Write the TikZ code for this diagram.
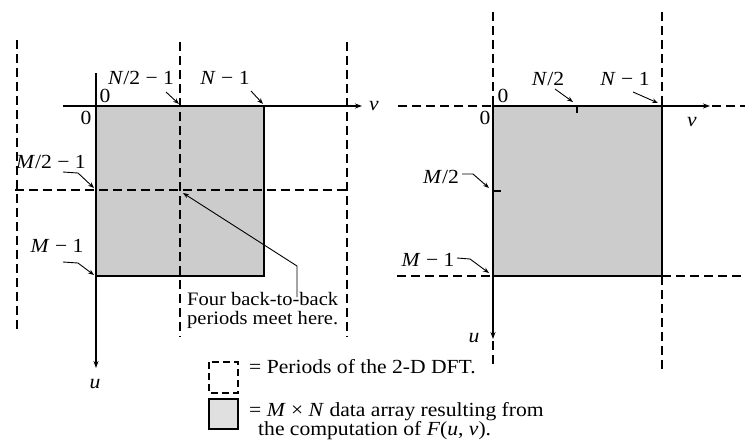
\documentclass[tikz,border=0pt]{standalone}
\usepackage{fontspec}
\setmainfont{Liberation Serif}[FakeStretch=1.08]
\usetikzlibrary{arrows.meta}
\newcommand\mvar[1]{\textit{#1}}
\begin{document}
\begin{tikzpicture}[x=1pt,y=-1pt,
  every node/.style={font=\fontsize{20}{18}\selectfont, inner sep=0pt},
  calltext/.style={font=\fontsize{19}{18}\selectfont, anchor=base west},
  axisarrow/.style={line width=1.1pt,-{Stealth[length=7pt,width=5pt]}},
  per/.style={line width=1.1pt,dash pattern=on 9pt off 5pt},
  pointer/.style={line width=0.9pt,-{Stealth[length=6pt,width=4.5pt]}},
  dataarr/.style={fill=black!20,draw=black,line width=1.1pt}]
\useasboundingbox (0,0) rectangle (745,445);
\fill[white] (0,0) rectangle (745,445);

% ================= LEFT =================
\draw[dataarr] (96,106) rectangle (264,276);
\coordinate (Lvs) at (63,106); \coordinate (Lve) at (362,106);
\coordinate (Lus) at (96,73);  \coordinate (Lue) at (96,368);
\draw[axisarrow] (Lvs) -- (Lve);
\draw[axisarrow] (Lus) -- (Lue);
\node (Lv) at (374,106) {\mvar{v}};
\node (Lu) at (95,384) {\mvar{u}};
% periods
\coordinate (Ld1a) at (17,40);  \coordinate (Ld1b) at (17,333);
\coordinate (Ld2a) at (180,42); \coordinate (Ld2b) at (180,337);
\coordinate (Ld3a) at (347,42); \coordinate (Ld3b) at (347,337);
\coordinate (Lh1a) at (15,190); \coordinate (Lh1b) at (347,190);
\draw[per] (Ld1a) -- (Ld1b);
\draw[per] (Ld2a) -- (Ld2b);
\draw[per] (Ld3a) -- (Ld3b);
\draw[per] (Lh1a) -- (Lh1b);
% labels
\node (L0t) at (105,96) {0};
\node (L0l) at (86,118) {0};
\node (LN2) at (141,78) {\mvar{N}/2 − 1};
\coordinate (LN2a) at (166,92); \coordinate (LN2b) at (179,104);
\draw[pointer] (LN2a) -- (LN2b);
\node (LN1) at (225,78) {\mvar{N} − 1};
\coordinate (LN1a) at (251,91); \coordinate (LN1b) at (263,104);
\draw[pointer] (LN1a) -- (LN1b);
\node (LM2) at (51,162) {\mvar{M}/2 − 1};
\coordinate (LM2a) at (63,172); \coordinate (LM2m) at (78,173); \coordinate (LM2b) at (94,188);
\draw[pointer] (LM2a) -- (LM2m) -- (LM2b);
\node (LM1) at (57,246) {\mvar{M} − 1};
\coordinate (LM1a) at (63,262); \coordinate (LM1m) at (78,263); \coordinate (LM1b) at (94,275);
\draw[pointer] (LM1a) -- (LM1m) -- (LM1b);
% callout
\coordinate (Cs) at (297,297); \coordinate (Cm) at (297,266); \coordinate (Ce) at (183,193);
\draw[pointer] (Cs) -- (Cm) -- (Ce);
\node[calltext] (Ctext1) at (187,305) {Four back-to-back};
\node[calltext] (Ctext2) at (187,324) {periods meet here.};

% ================= LEGEND =================
\draw[per,dash pattern=on 7pt off 4pt] (209,362) rectangle (238,393);
\draw[dataarr,fill=black!12] (209,399) rectangle (238,429);
\node[anchor=base west] (G1) at (249,373) {= Periods of the 2-D DFT.};
\node[anchor=base west] (G2) at (249,416) {= \mvar{M} × \mvar{N} data array resulting from};
\node[anchor=base west] (G3) at (258,435) {the computation of \mvar{F}(\mvar{u}, \mvar{v}).};

% ================= RIGHT =================
\draw[dataarr] (493,106) rectangle (662,276);
\coordinate (Rvs) at (493,106); \coordinate (Rve) at (710,106);
\coordinate (Rus) at (493,106); \coordinate (Rue) at (493,339);
\draw[axisarrow] (Rvs) -- (Rve);
\draw[axisarrow] (Rus) -- (Rue);
\coordinate (Rh0a) at (398,106); \coordinate (Rh0c) at (712,106); \coordinate (Rh0d) at (745,106);
\draw[per] (Rh0a) -- (Rvs);
\draw[per] (Rh0c) -- (Rh0d);
\coordinate (Rv0a) at (493,12); \coordinate (Rv0c) at (493,341); \coordinate (Rv0d) at (493,368);
\draw[per] (Rv0a) -- (Rvs);
\draw[per] (Rv0c) -- (Rv0d);
\coordinate (Rv1a) at (662,12); \coordinate (Rv1b) at (662,106);
\coordinate (Rv1c) at (662,276); \coordinate (Rv1d) at (662,371);
\draw[per] (Rv1a) -- (Rv1b);
\draw[per] (Rv1c) -- (Rv1d);
\coordinate (Rh1a) at (397,276); \coordinate (Rh1b) at (493,276);
\coordinate (Rh1c) at (662,276); \coordinate (Rh1d) at (745,276);
\draw[per] (Rh1a) -- (Rh1b);
\draw[per] (Rh1c) -- (Rh1d);
% ticks
\coordinate (RtNa) at (577,106); \coordinate (RtNb) at (577,113);
\draw[line width=1.1pt] (RtNa) -- (RtNb);
\coordinate (RtMa) at (493,191); \coordinate (RtMb) at (501,191);
\draw[line width=1.1pt] (RtMa) -- (RtMb);
% labels
\node (R0t) at (503,96) {0};
\node (R0l) at (485,118) {0};
\node (Rv) at (692,122) {\mvar{v}};
\node (Ru) at (474,338) {\mvar{u}};
\node (RN2) at (548,79) {\mvar{N}/2};
\coordinate (RN2a) at (555,89); \coordinate (RN2b) at (573,102);
\draw[pointer] (RN2a) -- (RN2b);
\node (RN1) at (625,79) {\mvar{N} − 1};
\coordinate (RN1a) at (633,92); \coordinate (RN1b) at (658,103);
\draw[pointer] (RN1a) -- (RN1b);
\node (RM2) at (441,177) {\mvar{M}/2};
\coordinate (RM2a) at (462,174); \coordinate (RM2m) at (473,174); \coordinate (RM2b) at (489,188);
\draw[pointer] (RM2a) -- (RM2m) -- (RM2b);
\node (RM1) at (428,260) {\mvar{M} − 1};
\coordinate (RM1a) at (457,258); \coordinate (RM1m) at (470,259); \coordinate (RM1b) at (489,273);
\draw[pointer] (RM1a) -- (RM1m) -- (RM1b);
\end{tikzpicture}
\end{document}
